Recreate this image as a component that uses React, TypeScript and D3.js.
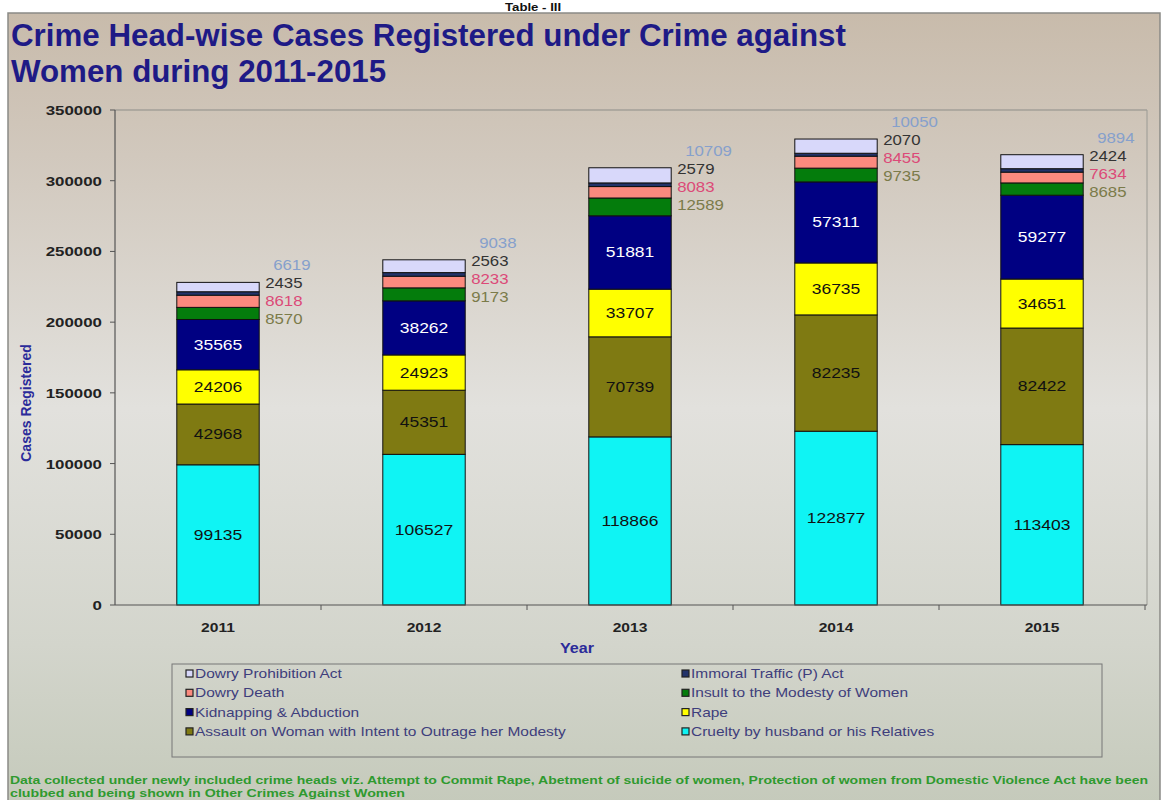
import React from "react";
import * as d3 from "d3";

const years = ["2011", "2012", "2013", "2014", "2015"];
const cruelty = [99135, 106527, 118866, 122877, 113403];
const assault = [42968, 45351, 70739, 82235, 82422];
const rape = [24206, 24923, 33707, 36735, 34651];
const kidnapping = [35565, 38262, 51881, 57311, 59277];
const insult = [8570, 9173, 12589, 9735, 8685];
const dowryDeath = [8618, 8233, 8083, 8455, 7634];
const immoral = [2435, 2563, 2579, 2070, 2424];
const dowryProhibition = [6619, 9038, 10709, 10050, 9894];
const yTicks = [0, 50000, 100000, 150000, 200000, 250000, 300000, 350000];

const series = [
  { name: "Cruelty by husband or his Relatives", values: cruelty, color: "#0ff4f4", label: "inside", text: "#111" },
  { name: "Assault on Woman with Intent to Outrage her Modesty", values: assault, color: "#7f7a12", label: "inside", text: "#111" },
  { name: "Rape", values: rape, color: "#ffff00", label: "inside", text: "#111" },
  { name: "Kidnapping & Abduction", values: kidnapping, color: "#000082", label: "inside", text: "#fff" },
  { name: "Insult to the Modesty of Women", values: insult, color: "#047c0c", label: "out", text: "#7b7b4a", off: 37 },
  { name: "Dowry Death", values: dowryDeath, color: "#fb8a7e", label: "out", text: "#dc4a78", off: 19 },
  { name: "Immoral Traffic (P) Act", values: immoral, color: "#22336a", label: "out", text: "#333", off: 1 },
  { name: "Dowry Prohibition Act", values: dowryProhibition, color: "#d8d8fa", label: "out", text: "#86a0cc", off: -17 },
];

const legendOrder = [
  ["Dowry Prohibition Act", "Immoral Traffic (P) Act"],
  ["Dowry Death", "Insult to the Modesty of Women"],
  ["Kidnapping & Abduction", "Rape"],
  ["Assault on Woman with Intent to Outrage her Modesty", "Cruelty by husband or his Relatives"],
];

function SText(props: any) {
  const { x, y, sx = 1, children, ...rest } = props;
  return (
    <text transform={`translate(${x},${y}) scale(${sx},1)`} {...rest}>
      {children}
    </text>
  );
}

export default function App() {
  const W = 1163, H = 800;
  const x = d3.scaleBand().domain(years).range([115, 1145]).paddingInner(0.6).paddingOuter(0.3);
  const y = d3.scaleLinear().domain([0, 350000]).range([605, 110]);
  const band = d3.scaleBand().domain(years).range([115, 1145]);
  const font = "Arial, 'Liberation Sans', sans-serif";

  const stack = d3.stack<any>().keys(series.map((s) => s.name))(
    years.map((yr, i) => {
      const o: any = { year: yr };
      series.forEach((s) => (o[s.name] = s.values[i]));
      return o;
    })
  );
  const totals = years.map((_, i) => d3.sum(series, (s) => s.values[i]));
  const colorOf = (n: string) => series.find((s) => s.name === n)!.color;

  return (
    <svg width={W} height={H} style={{ display: "block", position: "absolute", left: 0, top: 0, fontFamily: font }}>
      <defs>
        <linearGradient id="bg" x1="0" y1="0" x2="0" y2="1">
          <stop offset="0%" stopColor="#c8bbab" />
          <stop offset="18%" stopColor="#d1c8bd" />
          <stop offset="50%" stopColor="#e2e1dd" />
          <stop offset="80%" stopColor="#d3d5cc" />
          <stop offset="100%" stopColor="#c5cabb" />
        </linearGradient>
      </defs>
      <rect x={0} y={0} width={W} height={H} fill="#fff" />
      <rect x={8} y={13} width={1152} height={790} fill="url(#bg)" stroke="#8a8a86" strokeWidth={1.5} />
      <SText x={505} y={11} sx={1.2} fontSize={11} fontWeight="bold" fill="#111">Table - III</SText>

      <text x={11} y={46} fontSize={31.3} fontWeight="bold" fill="#1e1a86">Crime Head-wise Cases Registered under Crime against</text>
      <text x={11} y={82} fontSize={31.3} fontWeight="bold" fill="#1e1a86">Women during 2011-2015</text>

      {/* plot frame */}
      <line x1={115} x2={1147} y1={110} y2={110} stroke="#8d8d88" strokeWidth={1} />
      <line x1={1147} x2={1147} y1={110} y2={605} stroke="#9a9a94" strokeWidth={1} />

      {/* y axis */}
      <line x1={115} x2={115} y1={110} y2={605} stroke="#555" strokeWidth={1.2} />
      {yTicks.map((t) => (
        <g key={t}>
          <line x1={110} x2={115} y1={y(t)} y2={y(t)} stroke="#555" />
          <SText x={102} y={y(t) + 5} sx={1.3} fontSize={13} fontWeight="bold" textAnchor="end" fill="#222">{t}</SText>
        </g>
      ))}
      <text transform={`translate(31,403) rotate(-90)`} fontSize={14} fontWeight="bold" textAnchor="middle" fill="#2b2b9a">Cases Registered</text>

      {/* bars */}
      {stack.map((layer) => (
        <g key={layer.key}>
          {layer.map((d, i) => (
            <rect key={i} x={x(years[i])} width={x.bandwidth()} y={y(d[1])} height={y(d[0]) - y(d[1])}
              fill={colorOf(layer.key as string)} stroke="#111" strokeWidth={1} />
          ))}
        </g>
      ))}
      {/* labels */}
      {stack.map((layer, li) => {
        const s = series[li];
        return (
          <g key={"l" + layer.key}>
            {layer.map((d, i) => {
              if (s.label === "inside") {
                return (
                  <SText key={i} x={x(years[i])! + x.bandwidth() / 2} y={(y(d[0]) + y(d[1])) / 2 + 5} sx={1.25}
                    fontSize={14} textAnchor="middle" fill={s.text}>{s.values[i]}</SText>
                );
              }
              const top = y(totals[i]);
              const dx = s.name === "Dowry Prohibition Act" ? 14 : 6;
              return (
                <SText key={i} x={x(years[i])! + x.bandwidth() + dx} y={top + (s as any).off + 5} sx={1.2}
                  fontSize={14} fill={s.text}>{s.values[i]}</SText>
              );
            })}
          </g>
        );
      })}

      {/* x axis */}
      <line x1={115} x2={1147} y1={605} y2={605} stroke="#555" strokeWidth={1.2} />
      {years.map((yr) => (
        <g key={yr}>
          <line x1={band(yr)! + band.bandwidth()} x2={band(yr)! + band.bandwidth()} y1={605} y2={610} stroke="#555" />
          <SText x={x(yr)! + x.bandwidth() / 2} y={632} sx={1.2} fontSize={13} fontWeight="bold" textAnchor="middle" fill="#222">{yr}</SText>
        </g>
      ))}
      <SText x={577} y={653} sx={1.15} fontSize={14} fontWeight="bold" textAnchor="middle" fill="#2b2b9a">Year</SText>

      {/* legend */}
      <rect x={172} y={664} width={930} height={93} fill="none" stroke="#777" strokeWidth={1} />
      {legendOrder.map((row, r) =>
        row.map((name, c) => {
          const lx = c === 0 ? 186 : 682;
          const ly = 674 + r * 19.3;
          return (
            <g key={name}>
              <rect x={lx} y={ly - 4} width={7} height={7} fill={colorOf(name)} stroke="#222" strokeWidth={1.2} />
              <SText x={lx + 9} y={ly + 4} sx={1.29} fontSize={12} fill="#3e3e7c">{name}</SText>
            </g>
          );
        })
      )}

      <text x={10} y={784} fontSize={11} fontWeight="bold" fill="#2f9a2f" textLength={1138} lengthAdjust="spacingAndGlyphs">Data collected under  newly included crime heads viz. Attempt to Commit Rape, Abetment of suicide of women, Protection of women from Domestic Violence Act have been</text>
      <text x={10} y={797} fontSize={11} fontWeight="bold" fill="#2f9a2f" textLength={395} lengthAdjust="spacingAndGlyphs">clubbed and being shown in Other Crimes Against Women</text>
    </svg>
  );
}
